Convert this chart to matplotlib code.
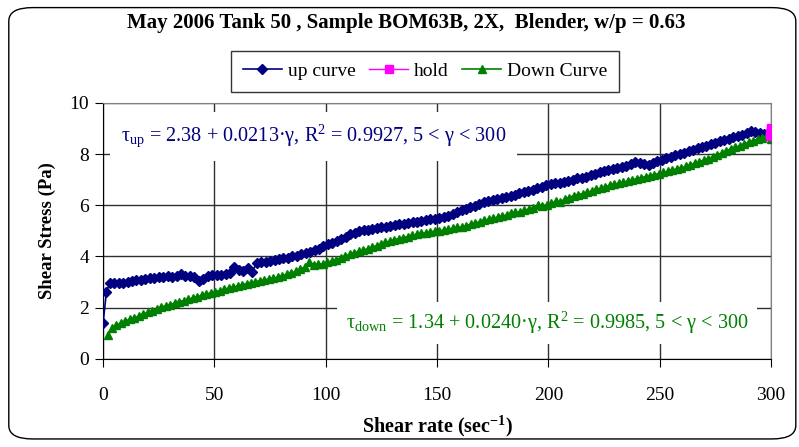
import matplotlib.pyplot as plt
import numpy as np
from matplotlib.patches import FancyBboxPatch

plt.rcParams['font.family'] = ['Liberation Serif', 'DejaVu Serif']
plt.rcParams['mathtext.fontset'] = 'custom'
plt.rcParams['mathtext.rm'] = 'Liberation Serif'
plt.rcParams['mathtext.it'] = 'Liberation Serif:italic'
plt.rcParams['mathtext.bf'] = 'Liberation Serif:bold'

# up curve: first two points, then every ~2 sec-1 from 3 to 299
up_start_rate = [0, 1.5]
up_start_stress = [1.4, 2.6]
up_stress = [2.97, 2.95, 2.97, 2.96, 3.0, 3.04, 3.08, 3.1, 3.12, 3.15,
             3.17, 3.2, 3.21, 3.22, 3.2, 3.24, 3.3, 3.25, 3.22, 3.2,
             3.05, 3.12, 3.25, 3.27, 3.28, 3.27, 3.3, 3.36, 3.6, 3.47,
             3.42, 3.55, 3.4, 3.75, 3.78, 3.8, 3.83, 3.88, 3.9, 3.93,
             3.96, 4.0, 4.02, 4.08, 4.12, 4.18, 4.25, 4.3, 4.4, 4.47,
             4.52, 4.6, 4.68, 4.78, 4.88, 4.93, 4.98, 5.02, 5.05, 5.08,
             5.12, 5.14, 5.15, 5.2, 5.22, 5.25, 5.28, 5.3, 5.33, 5.36,
             5.38, 5.42, 5.45, 5.48, 5.52, 5.55, 5.6, 5.65, 5.72, 5.8,
             5.86, 5.92, 5.98, 6.05, 6.12, 6.16, 6.2, 6.24, 6.28, 6.33,
             6.38, 6.42, 6.46, 6.5, 6.55, 6.6, 6.66, 6.72, 6.8, 6.82,
             6.85, 6.88, 6.92, 6.95, 7.0, 7.05, 7.08, 7.12, 7.18, 7.22,
             7.28, 7.33, 7.38, 7.42, 7.45, 7.5, 7.55, 7.62, 7.68, 7.66,
             7.6, 7.58, 7.65, 7.72, 7.78, 7.85, 7.9, 7.95, 8.0, 8.05,
             8.1, 8.16, 8.22, 8.27, 8.32, 8.38, 8.44, 8.5, 8.55, 8.6,
             8.65, 8.7, 8.76, 8.82, 8.9, 8.86, 8.82, 8.8, 8.85]
up_rate = up_start_rate + list(np.linspace(3, 299, len(up_stress)))
up_stress = up_start_stress + up_stress

hold_rate = [299.6, 299.7, 299.8, 299.9, 300.0, 300.0, 300.0]
hold_stress = [8.72, 8.78, 8.84, 8.9, 8.95, 9.0, 8.8]

down_stress = [0.95, 1.2, 1.32, 1.4, 1.48, 1.55, 1.6, 1.68, 1.75, 1.82,
               1.88, 1.95, 2.02, 2.08, 2.12, 2.18, 2.24, 2.28, 2.33, 2.38,
               2.43, 2.48, 2.53, 2.58, 2.63, 2.66, 2.72, 2.76, 2.8, 2.85,
               2.9, 2.94, 2.98, 3.02, 3.05, 3.08, 3.12, 3.15, 3.2, 3.25,
               3.3, 3.35, 3.42, 3.5, 3.58, 3.8, 3.68, 3.7, 3.72, 3.77,
               3.82, 3.88, 3.95, 4.02, 4.08, 4.14, 4.2, 4.25, 4.3, 4.36,
               4.42, 4.48, 4.55, 4.6, 4.66, 4.7, 4.74, 4.78, 4.82, 4.86,
               4.9, 4.93, 4.96, 4.98, 5.0, 5.03, 5.06, 5.1, 5.14, 5.14,
               5.2, 5.26, 5.3, 5.36, 5.42, 5.45, 5.5, 5.53, 5.58, 5.62,
               5.68, 5.72, 5.75, 5.8, 5.85, 5.9, 6.0, 5.98, 6.02, 6.08,
               6.15, 6.12, 6.25, 6.3, 6.38, 6.42, 6.45, 6.5, 6.56, 6.62,
               6.66, 6.72, 6.78, 6.82, 6.86, 6.9, 6.94, 7.0, 7.04, 7.08,
               7.12, 7.16, 7.2, 7.24, 7.28, 7.32, 7.38, 7.42, 7.46, 7.52,
               7.58, 7.64, 7.7, 7.76, 7.82, 7.9, 7.98, 8.04, 8.12, 8.2,
               8.26, 8.32, 8.38, 8.46, 8.52, 8.58, 8.64, 8.72, 8.6]
down_rate = list(np.linspace(2, 300, len(down_stress)))

fig = plt.figure(figsize=(7.99, 4.47), dpi=100)
ax = fig.add_axes([0.129, 0.197, 0.836, 0.573])

ax.plot(up_rate, up_stress, color='#000080', marker='D', markersize=5,
        linewidth=1.2, label='up curve', zorder=3)
ax.plot(hold_rate, hold_stress, color='#FF00FF', marker='s', markersize=6,
        linewidth=1, label='hold', zorder=5)
ax.plot(down_rate, down_stress, color='#008000', marker='^', markersize=6,
        linewidth=1.2, label='Down Curve', zorder=4)

ax.set_xlim(0, 300)
ax.set_ylim(0, 10)
ax.set_xticks(np.arange(0, 301, 50))
ax.set_yticks(np.arange(0, 11, 2))
ax.grid(True, color='#303030', linewidth=1)
ax.set_axisbelow(True)
for s in ['top', 'right']:
    ax.spines[s].set_color('#808080')
ax.spines['left'].set_color('black')
ax.spines['bottom'].set_color('black')
ax.tick_params(direction='out', length=6, labelsize=14, pad=4)
ax.tick_params(axis='x', pad=14)

ax.set_xlabel('Shear rate (sec$^{\\mathbf{-1}}$)', fontsize=14.5, fontweight='bold', labelpad=7)
ax.set_ylabel('Shear Stress (Pa)', fontsize=13.5, fontweight='bold', labelpad=10)

ax.text(8, 8.7, r'τ$_{\mathrm{up}}$ = 2.38 + 0.0213·γ, R$^{2}$ = 0.9927, 5 < γ < 300',
        color='#000080', fontsize=14.6, va='center', ha='left', zorder=2,
        bbox=dict(facecolor='white', edgecolor='none', pad=8))
ax.text(109, 1.4, r'τ$_{\mathrm{down}}$ = 1.34 + 0.0240·γ, R$^{2}$ = 0.9985, 5 < γ < 300',
        color='#008000', fontsize=14.6, va='center', ha='left', zorder=2,
        bbox=dict(facecolor='white', edgecolor='none', pad=6))

fig.text(0.508, 0.948, 'May 2006 Tank 50 , Sample BOM63B, 2X,  Blender, w/p = 0.63',
         ha='center', va='center', fontsize=15, fontweight='bold')

leg = fig.legend(loc='center', bbox_to_anchor=(0.532, 0.841), ncol=3,
                 fontsize=14, frameon=True, fancybox=False, edgecolor='black',
                 handlelength=2.0, columnspacing=0.7, handletextpad=0.3,
                 borderpad=0.6, borderaxespad=0)
leg.get_frame().set_linewidth(1)

border = FancyBboxPatch((0.011, 0.018), 0.985, 0.965, transform=fig.transFigure,
                        boxstyle='round,pad=0,rounding_size=0.03',
                        facecolor='none', edgecolor='black', linewidth=1)
fig.patches.append(border)

plt.savefig('out.png', dpi=100)
